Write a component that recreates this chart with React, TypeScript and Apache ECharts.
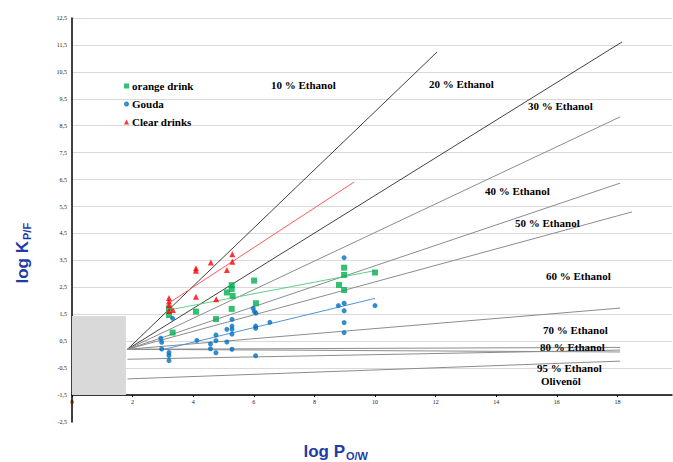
import React, { useEffect, useRef } from "react";
import * as echarts from "echarts";

// ---- data ----
const ORANGE_DRINK: [number, number][] = [
  [3.2, 1.72], [3.2, 1.47], [3.32, 0.82], [4.09, 1.6], [4.75, 1.32],
  [5.11, 2.31], [5.27, 2.58], [5.27, 2.44], [5.3, 2.18], [5.27, 1.7],
  [6.01, 2.75], [6.07, 1.91], [8.81, 2.59], [8.98, 3.23], [8.98, 2.96],
  [8.98, 2.4], [10.0, 3.05],
];
const GOUDA: [number, number][] = [
  [2.93, 0.61], [2.96, 0.46], [2.96, 0.21], [3.2, 0.08], [3.2, -0.03],
  [3.2, -0.22], [3.32, 1.35], [4.12, 0.53], [4.57, 0.4], [4.57, 0.22],
  [4.75, 0.73], [4.75, 0.52], [4.75, 0.07], [5.11, 0.94], [5.11, 0.47],
  [5.28, 1.31], [5.28, 1.06], [5.28, 0.94], [5.28, 0.76], [5.28, 0.2],
  [5.98, 1.72], [6.02, 1.6], [6.07, 1.54], [6.06, 1.06], [6.06, 0.98],
  [6.06, -0.04], [6.53, 1.2], [8.79, 1.82], [8.98, 3.6], [8.98, 1.91],
  [8.98, 1.63], [8.98, 1.19], [8.98, 0.82], [10.0, 1.82],
];
const CLEAR_DRINKS: [number, number][] = [
  [3.2, 2.1], [3.2, 1.97], [3.2, 1.84], [3.2, 1.62], [3.33, 1.66],
  [4.09, 3.21], [4.09, 3.12], [4.09, 2.15], [4.58, 3.42], [4.76, 2.06],
  [5.11, 3.14], [5.29, 3.73], [5.29, 3.45],
];

// trend lines [x1, y1, x2, y2]
const TREND_ORANGE = [3.2, 1.66, 10.0, 3.12];
const TREND_GOUDA = [2.93, 0.17, 10.0, 2.09];
const TREND_CLEAR = [3.2, 1.92, 9.31, 6.41];

// ethanol reference lines
const LINE_NAMES = [
  "10 % Ethanol", "20 % Ethanol", "30 % Ethanol", "40 % Ethanol", "50 % Ethanol",
  "60 % Ethanol", "70 % Ethanol", "80 % Ethanol", "95 % Ethanol", "Olivenöl",
];
const LINE_START_X = [1.83, 1.83, 1.83, 1.83, 1.83, 1.83, 1.83, 1.83, 1.83, 1.83];
const LINE_START_Y = [0.2, 0.2, 0.2, 0.2, 0.2, 0.2, 0.2, -0.17, 0.2, -0.9];
const LINE_END_X = [12.05, 18.15, 18.09, 18.09, 18.48, 18.09, 18.09, 18.09, 18.09, 18.09];
const LINE_END_Y = [11.24, 11.61, 8.83, 6.37, 5.3, 1.73, 0.27, 0.17, 0.1, -0.24];

const GRAY_BOX = [0, -1.5, 1.78, 1.44];

const X_MIN = 0;
const X_MAX = 19.8;
const X_INTERVAL = 2;
const Y_MIN = -2.5;
const Y_MAX = 12.5;
const Y_INTERVAL = 1;

const TITLE_COLOR = "#1f3ca6";
const SERIF = "'Liberation Serif', 'Times New Roman', serif";

// label anchor positions (pixels, left edge / middle)
const LABEL_POS: [number, number][] = [
  [271, 85], [429, 84], [528, 106], [485, 191], [515, 223],
  [546, 276], [543, 330], [540, 347], [537, 368], [541, 381],
];

export default function App() {
  const ref = useRef<HTMLDivElement>(null);
  useEffect(() => {
    document.body.style.margin = "0";
    if (!ref.current) return;
    const chart = echarts.init(ref.current, undefined, { renderer: "svg" });
    const fmtY = (v: number) => v.toFixed(1).replace(".", ",");

    const ethanolSeries = LINE_NAMES.map((n, i) => ({
      name: n,
      type: "line",
      silent: true,
      symbol: "none",
      z: 2,
      lineStyle: {
        color: i < 2 ? "#111111" : "#8c8c8c",
        width: i < 2 ? 0.8 : 1,
      },
      data: [
        [LINE_START_X[i], LINE_START_Y[i]],
        [LINE_END_X[i], LINE_END_Y[i]],
      ],
      ...(i === 0
        ? {
            markArea: {
              silent: true,
              itemStyle: { color: "#d9d9d9" },
              data: [
                [
                  { xAxis: GRAY_BOX[0], yAxis: GRAY_BOX[1] },
                  { xAxis: GRAY_BOX[2], yAxis: GRAY_BOX[3] },
                ],
              ],
            },
          }
        : {}),
    }));

    const trend = (t: number[], color: string) => ({
      type: "line",
      silent: true,
      symbol: "none",
      z: 3,
      lineStyle: { color, width: 1 },
      data: [
        [t[0], t[1]],
        [t[2], t[3]],
      ],
    });

    const option: any = {
      animation: false,
      grid: { left: 72, top: 18, right: 1, bottom: 40 },
      legend: {
        orient: "vertical",
        left: 119,
        top: 75,
        itemWidth: 5,
        itemHeight: 5,
        itemGap: 6,
        data: ["orange drink", "Gouda", "Clear drinks"],
        textStyle: {
          fontFamily: SERIF,
          fontWeight: "bold",
          fontSize: 11,
          color: "#000",
          lineHeight: 12,
          padding: [0, 0, 0, -2],
        },
      },
      xAxis: {
        type: "value",
        min: X_MIN,
        max: X_MAX,
        interval: X_INTERVAL,
        offset: -((462 - 40 - 18) / (Y_MAX - Y_MIN)),
        axisLine: { onZero: false, lineStyle: { color: "#000", width: 1.5 } },
        axisTick: { show: true, length: 2, lineStyle: { color: "#000" } },
        splitLine: { show: false },
        axisLabel: {
          fontFamily: SERIF,
          fontSize: 6,
          color: "#222",
          margin: 4,
          showMinLabel: true,
          showMaxLabel: false,
          formatter: (v: number) => (Math.abs(v % 2) < 1e-9 ? String(v) : ""),
        },
      },
      yAxis: {
        type: "value",
        min: Y_MIN,
        max: Y_MAX,
        interval: Y_INTERVAL,
        axisLine: { show: true, onZero: false, lineStyle: { color: "#000", width: 1.5 } },
        axisTick: { show: false },
        splitLine: {
          show: true,
          showMinLine: false,
          lineStyle: { color: "#d9d9d9", width: 1 },
        },
        axisLabel: {
          fontFamily: SERIF,
          fontSize: 6,
          color: "#222",
          margin: 5,
          formatter: fmtY,
        },
      },
      series: [
        ...ethanolSeries,
        trend(TREND_CLEAR, "#ff5c5c"),
        trend(TREND_ORANGE, "#5fd08a"),
        trend(TREND_GOUDA, "#4f95d8"),
        {
          name: "orange drink",
          type: "scatter",
          symbol: "rect",
          symbolSize: 6,
          z: 5,
          itemStyle: { color: "#00b050" },
          data: ORANGE_DRINK,
        },
        {
          name: "Gouda",
          type: "scatter",
          symbol: "circle",
          symbolSize: 5,
          z: 5,
          itemStyle: { color: "#0070c0" },
          data: GOUDA,
        },
        {
          name: "Clear drinks",
          type: "scatter",
          symbol: "triangle",
          symbolSize: 6,
          z: 5,
          itemStyle: { color: "#ff0000" },
          data: CLEAR_DRINKS,
        },
      ],
      graphic: [
        ...LINE_NAMES.map((n, i) => ({
          type: "text",
          x: LABEL_POS[i][0],
          y: LABEL_POS[i][1],
          z: 10,
          style: {
            text: n,
            font: `bold 11px ${SERIF}`,
            fill: "#000",
            align: "left",
            verticalAlign: "middle",
          },
        })),
        {
          type: "text",
          x: 72,
          y: 402,
          z: 10,
          style: {
            text: "0",
            font: `bold 6px ${SERIF}`,
            fill: "#222",
            align: "center",
            verticalAlign: "middle",
          },
        },
        {
          type: "group",
          x: 22,
          y: 241,
          rotation: Math.PI / 2,
          children: [
            {
              type: "text",
              x: 0,
              y: 0,
              style: {
                text: "log K",
                font: "bold 17px 'Liberation Sans', Arial, sans-serif",
                fill: TITLE_COLOR,
                align: "right",
                verticalAlign: "middle",
              },
            },
            {
              type: "text",
              x: 1,
              y: 5,
              style: {
                text: "P/F",
                font: "bold 11px 'Liberation Sans', Arial, sans-serif",
                fill: TITLE_COLOR,
                align: "left",
                verticalAlign: "middle",
              },
            },
          ],
        },
        {
          type: "text",
          x: 345,
          y: 451,
          style: {
            text: "log P",
            font: "bold 17px 'Liberation Sans', Arial, sans-serif",
            fill: TITLE_COLOR,
            align: "right",
            verticalAlign: "middle",
          },
        },
        {
          type: "text",
          x: 346,
          y: 456,
          style: {
            text: "O/W",
            font: "bold 11px 'Liberation Sans', Arial, sans-serif",
            fill: TITLE_COLOR,
            align: "left",
            verticalAlign: "middle",
          },
        },
      ],
    };
    chart.setOption(option);
    return () => chart.dispose();
  }, []);
  return <div ref={ref} style={{ width: 673, height: 462 }} />;
}
